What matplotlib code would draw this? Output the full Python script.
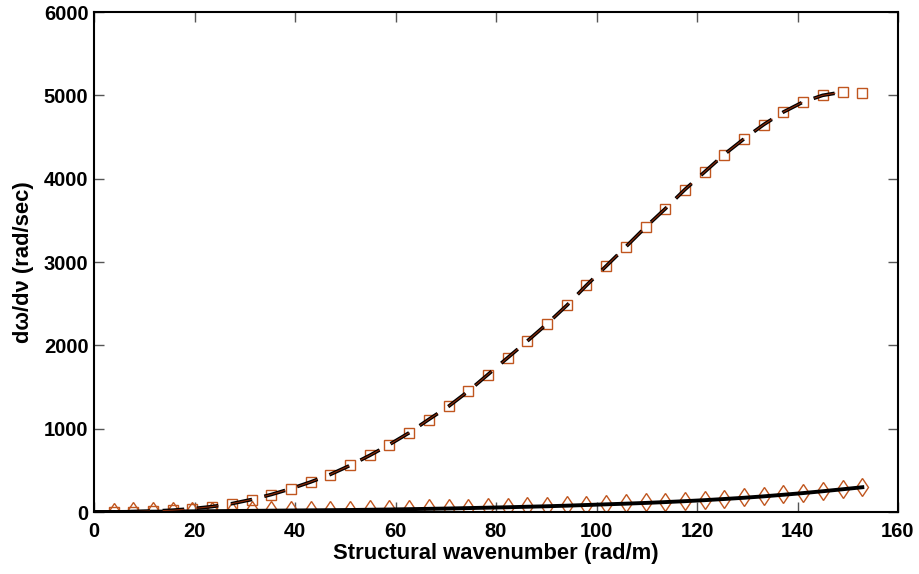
import numpy as np
import matplotlib.pyplot as plt

plt.rcParams['font.family'] = ['Liberation Sans', 'DejaVu Sans']
plt.rcParams['font.weight'] = 'bold'

# wavenumber of the sampled points (rad/m)
k = [3.9, 7.8, 11.8, 15.7, 19.6, 23.5, 27.4, 31.4, 35.3, 39.2, 43.1, 47.0,
     51.0, 54.9, 58.8, 62.7, 66.6, 70.6, 74.5, 78.4, 82.3, 86.2, 90.2, 94.1,
     98.0, 101.9, 105.8, 109.8, 113.7, 117.6, 121.5, 125.4, 129.4, 133.3,
     137.2, 141.1, 145.0, 149.0, 152.9]

# upper branch (squares)
upper = [0, 5, 12, 22, 40, 65, 100, 150, 210, 280, 360, 450, 560, 680, 810,
         950, 1110, 1270, 1450, 1650, 1850, 2050, 2260, 2480, 2720, 2950,
         3180, 3420, 3640, 3870, 4080, 4290, 4480, 4650, 4800, 4920, 5000,
         5040, 5030]

# lower branch (diamonds)
lower = [5, 8, 10, 12, 14, 16, 18, 20, 22, 24, 26, 28, 30, 33, 36, 40, 44,
         48, 53, 58, 63, 69, 75, 82, 90, 98, 106, 115, 125, 136, 148, 162,
         177, 194, 213, 233, 255, 279, 303]

mk = '#c0561f'

fig = plt.figure(figsize=(9.19, 5.74), dpi=100)
ax = fig.add_axes([94/919, 62/574, 804/919, 500/574])

# markers first, lines drawn over them
ax.plot(k, upper, ls='none', marker='s', ms=7.5, mfc='none', mec=mk, mew=1.0)
ax.plot(k, lower, ls='none', marker='d', ms=9.5, mfc='none', mec=mk, mew=1.0)
ax.plot([0] + k, [0] + [max(v - 6, 0) for v in lower], color='black', lw=2.8)
ax.plot([0] + k[:-1], [0] + upper[:-1], color='black', lw=2.6, ls=(0, (6, 3.5)))
ax.plot([0] + k[:-1], [0] + upper[:-1], color='#8a2a0a', lw=0.8, ls=(0, (19.5, 11.4)))

ax.set_xlim(0, 160)
ax.set_ylim(0, 6000)
ax.set_xticks(np.arange(0, 161, 20))
ax.set_yticks(np.arange(0, 6001, 1000))
ax.tick_params(direction='in', length=7, width=1, top=True, right=True,
               labelsize=14.5, color='#555555', pad=4)
ax.tick_params(axis='x', pad=7)
for s in ax.spines.values():
    s.set_linewidth(1.5)
ax.set_xlabel('Structural wavenumber (rad/m)', fontsize=15.8, fontweight='bold', labelpad=2)
ax.set_ylabel('d\u03c9/d\u03bd (rad/sec)', fontsize=15.8, fontweight='bold', labelpad=7)

fig.savefig('out.png', dpi=100)
